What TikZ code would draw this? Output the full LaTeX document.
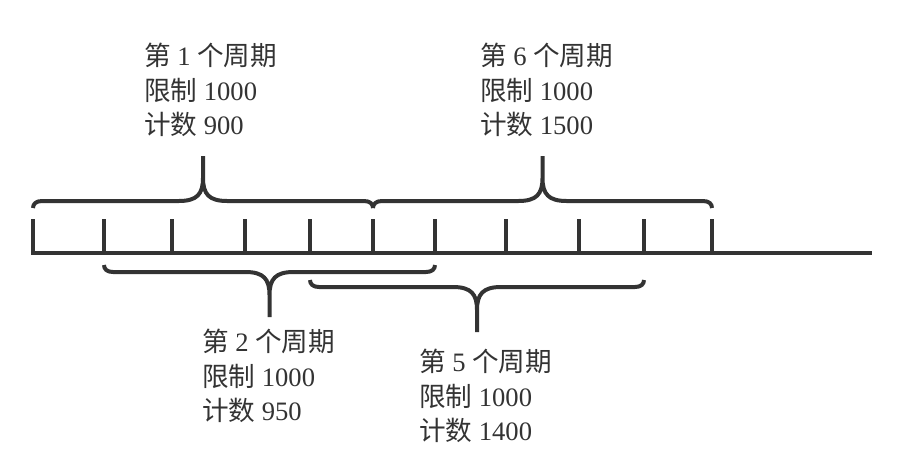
\documentclass[tikz,border=0pt]{standalone}
\usepackage{fontspec}
\setmainfont{Liberation Serif}
\newfontfamily\cjk{Noto Sans CJK SC}
\usetikzlibrary{positioning}

\definecolor{trazo}{HTML}{333333}

\begin{document}
\begin{tikzpicture}[x=0.5pt, y=-0.5pt, line width=2pt, draw=trazo,
  every node/.style={font=\fontsize{13.3}{17.3}\selectfont, align=left, text=trazo, inner sep=0pt},
  etiqueta/.style={anchor=north west},
  llave/.style={line join=round}]
\useasboundingbox (0,0) rectangle (904,461);
% eje con marcas
\coordinate (ini) at (33,253);
\coordinate (fin) at (872,253);
\draw (33,219) -- (ini) -- (fin);
\foreach \x [count=\i from 0] in {33,104,172,245,310,373,435,506,579,644,712} {
  \coordinate (t\i) at (\x,253);
  \draw (\x,219) -- (t\i);
}
% llaves: inicio/fin/altura de los extremos/sentido
\foreach \a/\b/\e/\s in {33/373/208/-1, 373/712/208/-1, 104/435/265/1, 310/644/280/1} {
  \pgfmathsetmacro\m{(\a+\b)/2}
  \draw[llave] (\a,\e) .. controls (\a,\e+\s*4) and (\a+3,\e+\s*7) .. (\a+9,\e+\s*7)
    -- (\m-24,\e+\s*7) .. controls (\m-6,\e+\s*7) and (\m,\e+\s*14) .. (\m,\e+\s*30)
    -- (\m,\e+\s*52)
    (\m,\e+\s*30) .. controls (\m,\e+\s*14) and (\m+6,\e+\s*7) .. (\m+24,\e+\s*7)
    -- (\b-9,\e+\s*7) .. controls (\b-3,\e+\s*7) and (\b,\e+\s*4) .. (\b,\e);
}
% textos
\node[etiqueta] (c1) at (142,41) {{\cjk 第} 1 {\cjk 个周期}\\{\cjk 限制} 1000\\{\cjk 计数} 900};
\node[etiqueta] (c6) at (478,41) {{\cjk 第} 6 {\cjk 个周期}\\{\cjk 限制} 1000\\{\cjk 计数} 1500};
\node[etiqueta] (c2) at (200,327) {{\cjk 第} 2 {\cjk 个周期}\\{\cjk 限制} 1000\\{\cjk 计数} 950};
\node[etiqueta] (c5) at (417,347) {{\cjk 第} 5 {\cjk 个周期}\\{\cjk 限制} 1000\\{\cjk 计数} 1400};
\end{tikzpicture}
\end{document}
